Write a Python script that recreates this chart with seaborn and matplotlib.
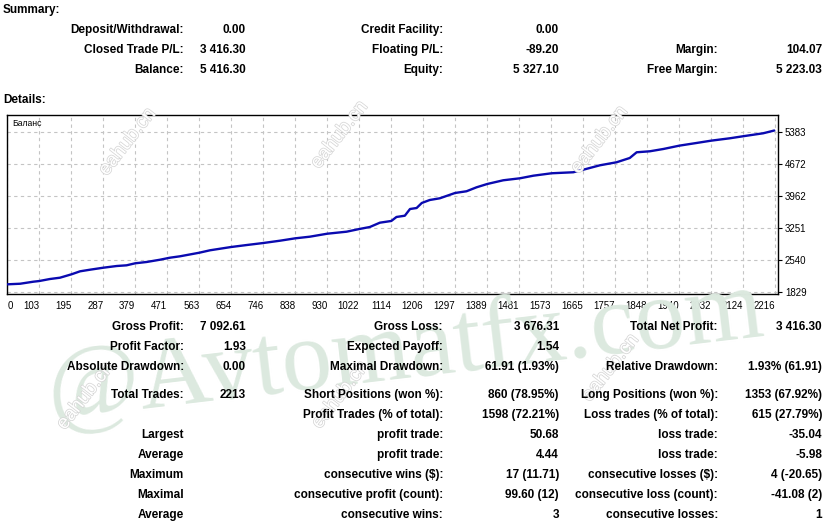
import numpy as np
import pandas as pd
import matplotlib
matplotlib.use("Agg")
import matplotlib.pyplot as plt
import matplotlib.patheffects as pe
import seaborn as sns

W, H = 825, 527

# balance curve: trade number -> balance
trade_no = [0, 37, 75, 92, 123, 152, 185, 210, 239, 277, 316, 344, 369, 402,
            441, 469, 498, 554, 585, 646, 691, 739, 787, 831, 873, 923, 979,
            1016, 1046, 1075, 1108, 1123, 1147, 1162, 1181, 1196, 1219, 1248,
            1292, 1325, 1354, 1385, 1431, 1479, 1518, 1571, 1633, 1662, 1710,
            1758, 1796, 1816, 1854, 1893, 1939, 1989, 2031, 2085, 2123, 2181, 2213]
balance = [2000, 2013, 2058, 2073, 2118, 2147, 2222, 2289, 2325, 2369, 2407,
           2422, 2467, 2496, 2547, 2591, 2622, 2702, 2756, 2829, 2873, 2918,
           2969, 3022, 3058, 3124, 3169, 3229, 3273, 3369, 3407, 3496, 3524,
           3673, 3695, 3807, 3873, 3911, 4029, 4067, 4155, 4229, 4311, 4355,
           4413, 4467, 4489, 4546, 4644, 4711, 4806, 4933, 4955, 5006, 5080,
           5140, 5191, 5244, 5289, 5355, 5416.30]

x_labels = ["0", "103", "195", "287", "379", "471", "563", "654", "746", "838",
            "930", "1022", "1114", "1206", "1297", "1389", "1481", "1573",
            "1665", "1757", "1848", "1940", "2032", "2124", "2216"]
y_ticks = [1829, 2540, 3251, 3962, 4672, 5383]

# summary block: (label, value) per column, one list per row
summary_rows = [
    [("Deposit/Withdrawal:", "0.00"), ("Credit Facility:", "0.00"), None],
    [("Closed Trade P/L:", "3 416.30"), ("Floating P/L:", "-89.20"), ("Margin:", "104.07")],
    [("Balance:", "5 416.30"), ("Equity:", "5 327.10"), ("Free Margin:", "5 223.03")],
]

details_rows = [
    [("Gross Profit:", "7 092.61"), ("Gross Loss:", "3 676.31"), ("Total Net Profit:", "3 416.30")],
    [("Profit Factor:", "1.93"), ("Expected Payoff:", "1.54"), None],
    [("Absolute Drawdown:", "0.00"), ("Maximal Drawdown:", "61.91 (1.93%)"), ("Relative Drawdown:", "1.93% (61.91)")],
    [("Total Trades:", "2213"), ("Short Positions (won %):", "860 (78.95%)"), ("Long Positions (won %):", "1353 (67.92%)")],
    [None, ("Profit Trades (% of total):", "1598 (72.21%)"), ("Loss trades (% of total):", "615 (27.79%)")],
    [("Largest", ""), ("profit trade:", "50.68"), ("loss trade:", "-35.04")],
    [("Average", ""), ("profit trade:", "4.44"), ("loss trade:", "-5.98")],
    [("Maximum", ""), ("consecutive wins ($):", "17 (11.71)"), ("consecutive losses ($):", "4 (-20.65)")],
    [("Maximal", ""), ("consecutive profit (count):", "99.60 (12)"), ("consecutive loss (count):", "-41.08 (2)")],
    [("Average", ""), ("consecutive wins:", "3"), ("consecutive losses:", "1")],
]

sns.set_theme(style="white")
plt.rcParams['font.family'] = ['Liberation Sans', 'DejaVu Sans']

fig = plt.figure(figsize=(W / 100, H / 100), dpi=100)
fig.patch.set_facecolor("white")


def fx(x):
    return x / W


def fy(y):
    return 1 - y / H


# watermarks
fig.text(fx(50), fy(418), "@Avtomatfx.com", family="Liberation Serif",
         fontsize=72.5, color="#dce9df", rotation=6.7, rotation_mode="anchor",
         ha="left", va="baseline", zorder=0)
for cx, cy in [(128, 142), (340, 135), (600, 140),
               (86, 396), (341, 395), (611, 368)]:
    fig.text(fx(cx), fy(cy), "eahub.cn", fontsize=14, color="white",
             rotation=52, ha="center", va="center", zorder=0,
             path_effects=[pe.withStroke(linewidth=1.1, foreground="#d6d6d6")])

# text blocks
col_label_x = [184, 443, 718]
col_value_x = [246, 559, 822]
bold = dict(fontsize=8.5, fontweight="bold", color="black", zorder=3)

fig.text(fx(3), fy(10), "Summary:", ha="left", va="center", **bold)
for row, y in zip(summary_rows, [30, 50, 70]):
    for c, cell in enumerate(row):
        if cell is None:
            continue
        fig.text(fx(col_label_x[c]), fy(y), cell[0], ha="right", va="center", **bold)
        fig.text(fx(col_value_x[c]), fy(y), cell[1], ha="right", va="center", **bold)
fig.text(fx(3), fy(100), "Details:", ha="left", va="center", **bold)

for row, y in zip(details_rows, [327, 347, 367, 395, 415, 435, 455, 475, 495, 515]):
    for c, cell in enumerate(row):
        if cell is None:
            continue
        fig.text(fx(col_label_x[c]), fy(y), cell[0], ha="right", va="center", **bold)
        fig.text(fx(col_value_x[c]), fy(y), cell[1], ha="right", va="center", **bold)

# balance chart
ax = fig.add_axes([fx(7.3), fy(294), fx(778) - fx(7.3), fy(115) - fy(294)])
ax.patch.set_alpha(0)
df = pd.DataFrame({"trade": trade_no, "balance": balance})
sns.lineplot(data=df, x="trade", y="balance", ax=ax, color="#0a0ab0",
             linewidth=1.7, estimator=None, zorder=3)

step = 2216 / 24
ax.set_xlim(0, (778 - 7.3) / 32 * step)
ax.set_ylim(1785, 5761)
ax.set_xticks(np.arange(len(x_labels)) * step)
ax.set_xticklabels(x_labels)
for i, lab in enumerate(ax.get_xticklabels()):
    lab.set_ha("left" if i == 0 else "right")
ax.set_yticks(y_ticks)
ax.yaxis.tick_right()
ax.tick_params(axis="both", direction="out", length=3, width=0.8,
               labelsize=7, pad=2, colors="black")
ax.grid(True, color="#c4c4c4", linestyle=(0, (3, 3)), linewidth=0.8)
for s in ax.spines.values():
    s.set_color("black")
    s.set_linewidth(1)
ax.set_xlabel("")
ax.set_ylabel("")
ax.text(0.006, 0.95, "Баланс", transform=ax.transAxes, fontsize=6.2,
        ha="left", va="center", color="black")

fig.savefig("out.png", dpi=100, facecolor="white")
